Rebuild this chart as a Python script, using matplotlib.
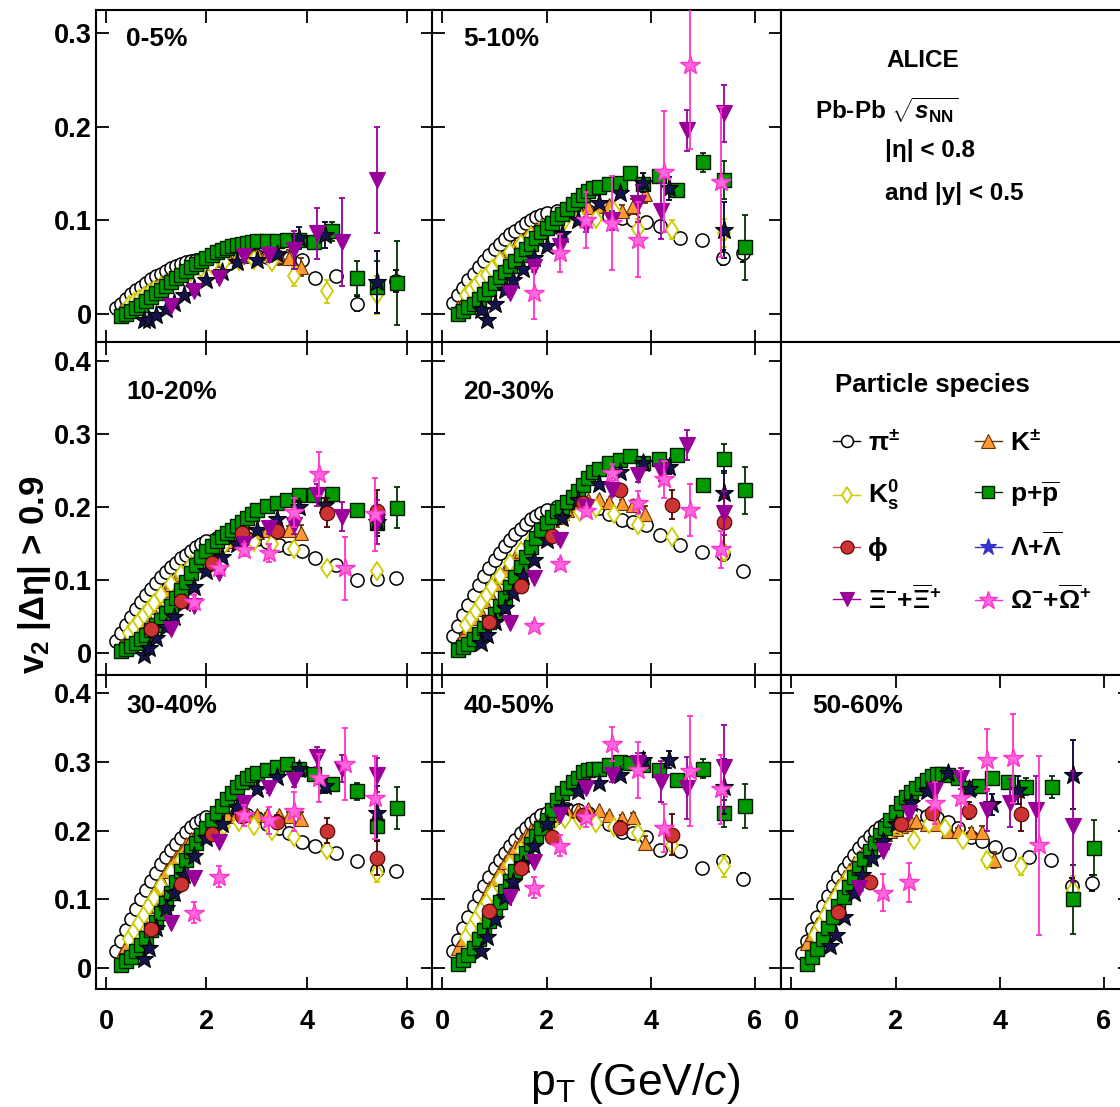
import numpy as np
import matplotlib
matplotlib.use("Agg")
import matplotlib.pyplot as plt
from matplotlib.lines import Line2D
from matplotlib.ticker import FuncFormatter

plt.rcParams['font.family'] = ['Liberation Sans', 'DejaVu Sans']
plt.rcParams['font.weight'] = 'bold'
plt.rcParams['mathtext.fontset'] = 'custom'
plt.rcParams['mathtext.rm'] = 'Liberation Sans:bold'
plt.rcParams['mathtext.bf'] = 'Liberation Sans:bold'
plt.rcParams['mathtext.it'] = 'Liberation Sans:italic:bold'
plt.rcParams['mathtext.sf'] = 'Liberation Sans:italic:regular'
plt.rcParams['mathtext.default'] = 'regular'

nan = np.nan

CENTRALITIES = ["0-5%", "5-10%", "10-20%", "20-30%", "30-40%", "40-50%", "50-60%"]
PANEL_CELLS = [(0, 0), (0, 1), (1, 0), (1, 1), (2, 0), (2, 1), (2, 2)]

# ---- pi+-
PI_PT = [0.2, 0.3, 0.4, 0.5, 0.6, 0.7, 0.8, 0.9, 1.0, 1.1, 1.2, 1.3, 1.4, 1.5, 1.6, 1.7, 1.8, 1.9, 2.0,
         2.2, 2.4, 2.6, 2.8, 3.0, 3.2, 3.45, 3.65, 3.9, 4.17, 4.57, 4.99, 5.39, 5.78]
PI_V2 = [
    [0.006, 0.011, 0.016, 0.021, 0.025, 0.029, 0.033, 0.037, 0.040, 0.043, 0.046, 0.049, 0.051, 0.053, 0.055, 0.057, 0.058, 0.059, 0.060,
     0.061, 0.062, 0.062, 0.062, 0.062, 0.061, 0.060, 0.060, 0.058, 0.038, 0.041, 0.011, 0.030, 0.035],
    [0.012, 0.020, 0.028, 0.036, 0.043, 0.050, 0.057, 0.063, 0.069, 0.075, 0.080, 0.085, 0.089, 0.093, 0.097, 0.100, 0.103, 0.106, 0.108,
     0.110, 0.111, 0.111, 0.110, 0.108, 0.105, 0.102, 0.100, 0.098, 0.094, 0.081, 0.079, 0.060, 0.065],
    [0.016, 0.028, 0.039, 0.050, 0.060, 0.070, 0.079, 0.088, 0.096, 0.104, 0.111, 0.118, 0.124, 0.130, 0.135, 0.140, 0.145, 0.149, 0.153,
     0.157, 0.160, 0.160, 0.158, 0.156, 0.152, 0.148, 0.144, 0.140, 0.130, 0.120, 0.100, 0.102, 0.103],
    [0.023, 0.037, 0.052, 0.066, 0.080, 0.093, 0.105, 0.116, 0.127, 0.137, 0.146, 0.155, 0.163, 0.170, 0.177, 0.183, 0.188, 0.192, 0.196,
     0.200, 0.203, 0.204, 0.203, 0.199, 0.190, 0.182, 0.180, 0.175, 0.162, 0.148, 0.138, 0.136, 0.112],
    [0.025, 0.040, 0.056, 0.071, 0.086, 0.100, 0.114, 0.127, 0.139, 0.151, 0.162, 0.172, 0.181, 0.190, 0.198, 0.205, 0.211, 0.216, 0.220,
     0.225, 0.227, 0.226, 0.223, 0.218, 0.210, 0.204, 0.197, 0.184, 0.178, 0.167, 0.156, 0.143, 0.141],
    [0.025, 0.041, 0.058, 0.074, 0.090, 0.105, 0.119, 0.132, 0.145, 0.157, 0.168, 0.178, 0.187, 0.196, 0.204, 0.211, 0.217, 0.222, 0.226,
     0.230, 0.231, 0.230, 0.226, 0.218, 0.210, 0.198, 0.196, 0.191, 0.172, 0.170, 0.146, 0.156, 0.130],
    [0.023, 0.040, 0.057, 0.074, 0.090, 0.105, 0.119, 0.132, 0.144, 0.155, 0.165, 0.175, 0.184, 0.192, 0.199, 0.205, 0.210, 0.214, 0.217,
     0.221, 0.222, 0.221, 0.218, 0.212, 0.204, 0.191, 0.185, 0.176, 0.166, 0.162, 0.157, 0.119, 0.124],
]
PI_ERR = [
    [0.0] * 28 + [0.002, 0.003, 0.008, 0.010, 0.012],
    [0.0] * 28 + [0.002, 0.003, 0.004, 0.008, 0.010],
    [0.0] * 28 + [0.002, 0.002, 0.003, 0.005, 0.006],
    [0.0] * 28 + [0.002, 0.002, 0.003, 0.005, 0.006],
    [0.0] * 28 + [0.002, 0.002, 0.003, 0.005, 0.006],
    [0.0] * 28 + [0.002, 0.003, 0.004, 0.007, 0.008],
    [0.0] * 28 + [0.003, 0.003, 0.004, 0.012, 0.012],
]

# ---- K+-
K_PT = [0.3, 0.4, 0.5, 0.6, 0.7, 0.8, 0.9, 1.0, 1.1, 1.2, 1.3, 1.4, 1.5, 1.6, 1.7, 1.8, 1.9, 2.0, 2.1, 2.2, 2.3, 2.4,
        2.6, 2.8, 3.0, 3.2, 3.45, 3.65, 3.88]
K_V2 = [
    [0.004, 0.007, 0.011, 0.015, 0.019, 0.023, 0.027, 0.030, 0.033, 0.036, 0.039, 0.042, 0.045, 0.047, 0.050, 0.052, 0.054, 0.056, 0.058, 0.059, 0.061, 0.062,
     0.063, 0.064, 0.065, 0.065, 0.062, 0.060, 0.050],
    [0.007, 0.013, 0.019, 0.026, 0.032, 0.039, 0.045, 0.051, 0.057, 0.063, 0.068, 0.073, 0.078, 0.083, 0.087, 0.091, 0.095, 0.098, 0.101, 0.104, 0.107, 0.109,
     0.112, 0.114, 0.115, 0.116, 0.110, 0.115, 0.128],
    [0.010, 0.018, 0.027, 0.036, 0.045, 0.054, 0.063, 0.071, 0.079, 0.087, 0.094, 0.101, 0.108, 0.114, 0.120, 0.126, 0.131, 0.136, 0.141, 0.145, 0.149, 0.153,
     0.159, 0.163, 0.166, 0.168, 0.168, 0.168, 0.165],
    [0.013, 0.024, 0.036, 0.048, 0.060, 0.072, 0.083, 0.094, 0.104, 0.114, 0.123, 0.132, 0.140, 0.148, 0.156, 0.163, 0.170, 0.176, 0.182, 0.187, 0.192, 0.196,
     0.203, 0.209, 0.211, 0.207, 0.205, 0.203, 0.191],
    [0.020, 0.032, 0.045, 0.060, 0.075, 0.090, 0.104, 0.117, 0.129, 0.141, 0.152, 0.162, 0.171, 0.180, 0.188, 0.195, 0.201, 0.206, 0.210, 0.214, 0.218, 0.221,
     0.225, 0.224, 0.223, 0.222, 0.222, 0.221, 0.217],
    [0.030, 0.042, 0.056, 0.071, 0.087, 0.102, 0.116, 0.130, 0.143, 0.155, 0.166, 0.176, 0.185, 0.194, 0.201, 0.207, 0.212, 0.216, 0.220, 0.223, 0.226, 0.228,
     0.230, 0.232, 0.230, 0.222, 0.218, 0.220, 0.182],
    [0.037, 0.050, 0.064, 0.078, 0.093, 0.107, 0.120, 0.132, 0.143, 0.153, 0.162, 0.170, 0.177, 0.184, 0.190, 0.195, 0.199, 0.203, 0.206, 0.209, 0.212, 0.214,
     0.210, 0.210, 0.200, 0.200, 0.198, 0.198, 0.157],
]
K_ERR = [
    [0.0] * 25 + [0.004, 0.005, 0.008, 0.010],
    [0.0] * 25 + [0.004, 0.006, 0.008, 0.010],
    [0.0] * 25 + [0.003, 0.004, 0.006, 0.010],
    [0.0] * 25 + [0.003, 0.004, 0.006, 0.010],
    [0.0] * 25 + [0.003, 0.004, 0.006, 0.010],
    [0.0] * 25 + [0.003, 0.004, 0.006, 0.010],
    [0.0] * 25 + [0.004, 0.006, 0.008, 0.012],
]

# ---- K0s
K0S_PT = [0.45, 0.55, 0.65, 0.75, 0.85, 0.95, 1.1, 1.3, 1.5, 1.7, 1.9, 2.1, 2.35, 2.65, 2.95, 3.3, 3.75, 4.4, 5.4]
K0S_V2 = [
    [0.010, 0.013, 0.016, 0.019, 0.022, 0.025, 0.030, 0.035, 0.040, 0.045, 0.049, 0.052, 0.055, 0.057, 0.058, 0.055, 0.040, 0.024, 0.020],
    [0.020, 0.025, 0.031, 0.037, 0.042, 0.048, 0.056, 0.066, 0.075, 0.083, 0.090, 0.096, 0.100, 0.102, 0.101, 0.110, 0.091, 0.090, 0.086],
    [0.028, 0.036, 0.044, 0.052, 0.060, 0.068, 0.080, 0.095, 0.108, 0.120, 0.131, 0.140, 0.148, 0.152, 0.152, 0.150, 0.142, 0.117, 0.112],
    [0.038, 0.048, 0.058, 0.069, 0.080, 0.090, 0.105, 0.124, 0.140, 0.154, 0.167, 0.178, 0.188, 0.193, 0.199, 0.190, 0.175, 0.159, 0.138],
    [0.042, 0.054, 0.066, 0.078, 0.090, 0.102, 0.119, 0.140, 0.158, 0.174, 0.188, 0.198, 0.207, 0.212, 0.206, 0.200, 0.191, 0.172, 0.138],
    [0.045, 0.058, 0.071, 0.084, 0.097, 0.110, 0.128, 0.150, 0.170, 0.186, 0.199, 0.209, 0.217, 0.216, 0.211, 0.205, 0.197, 0.179, 0.148],
    [0.048, 0.062, 0.076, 0.090, 0.103, 0.116, 0.134, 0.155, 0.174, 0.188, 0.199, 0.206, 0.186, 0.210, 0.204, 0.186, 0.157, 0.148, 0.114],
]
K0S_ERR = [
    [0.0] * 15 + [0.005, 0.010, 0.012, 0.020],
    [0.0] * 15 + [0.006, 0.010, 0.010, 0.015],
    [0.0] * 15 + [0.004, 0.006, 0.005, 0.008],
    [0.0] * 15 + [0.004, 0.006, 0.006, 0.010],
    [0.0] * 15 + [0.004, 0.005, 0.006, 0.012],
    [0.0] * 15 + [0.004, 0.006, 0.008, 0.015],
    [0.0] * 15 + [0.006, 0.010, 0.012, 0.020],
]

# ---- p + pbar
P_PT = [0.3, 0.4, 0.5, 0.6, 0.7, 0.8, 0.9, 1.0, 1.1, 1.2, 1.3, 1.4, 1.5, 1.6, 1.7, 1.8, 1.9, 2.0, 2.1, 2.2,
        2.3, 2.4, 2.5, 2.6, 2.7, 2.8, 2.9, 3.0, 3.2, 3.4, 3.6, 3.85, 4.15, 4.5, 5.0, 5.4, 5.8]
P_V2 = [
    [-0.002, 0.000, 0.003, 0.006, 0.010, 0.014, 0.018, 0.022, 0.026, 0.030, 0.034, 0.038, 0.042, 0.046, 0.050, 0.053, 0.057, 0.060, 0.063, 0.066,
     0.068, 0.070, 0.072, 0.074, 0.075, 0.076, 0.077, 0.078, 0.078, 0.078, 0.079, 0.079, 0.077, 0.088, 0.038, 0.029, 0.033],
    [0.000, 0.003, 0.007, 0.011, 0.016, 0.021, 0.027, 0.033, 0.039, 0.045, 0.051, 0.057, 0.063, 0.069, 0.075, 0.081, 0.087, 0.092, 0.097, 0.102,
     0.107, 0.112, 0.117, 0.122, 0.127, 0.131, 0.134, 0.136, 0.139, 0.140, 0.150, 0.139, 0.147, 0.132, 0.162, 0.143, 0.071],
    [0.003, 0.006, 0.010, 0.014, 0.019, 0.025, 0.031, 0.038, 0.046, 0.055, 0.065, 0.076, 0.087, 0.098, 0.110, 0.121, 0.131, 0.140, 0.147, 0.153,
     0.159, 0.164, 0.169, 0.174, 0.179, 0.185, 0.190, 0.196, 0.201, 0.205, 0.210, 0.216, 0.216, 0.218, 0.196, 0.178, 0.199],
    [0.004, 0.008, 0.013, 0.019, 0.026, 0.034, 0.043, 0.053, 0.064, 0.076, 0.090, 0.104, 0.118, 0.132, 0.145, 0.158, 0.168, 0.178, 0.186, 0.194,
     0.200, 0.207, 0.214, 0.222, 0.230, 0.240, 0.248, 0.252, 0.260, 0.265, 0.270, 0.260, 0.266, 0.271, 0.230, 0.266, 0.223],
    [0.005, 0.010, 0.017, 0.025, 0.034, 0.044, 0.055, 0.067, 0.080, 0.095, 0.110, 0.126, 0.142, 0.157, 0.170, 0.182, 0.193, 0.204, 0.215, 0.226,
     0.236, 0.246, 0.254, 0.263, 0.270, 0.276, 0.281, 0.284, 0.288, 0.292, 0.297, 0.290, 0.282, 0.268, 0.257, 0.206, 0.233],
    [0.006, 0.012, 0.020, 0.030, 0.042, 0.055, 0.069, 0.083, 0.097, 0.112, 0.127, 0.142, 0.156, 0.168, 0.180, 0.192, 0.204, 0.216, 0.230, 0.244,
     0.254, 0.262, 0.270, 0.277, 0.285, 0.288, 0.289, 0.289, 0.296, 0.300, 0.298, 0.295, 0.288, 0.274, 0.290, 0.225, 0.236],
    [0.007, 0.016, 0.028, 0.042, 0.058, 0.074, 0.090, 0.104, 0.118, 0.132, 0.146, 0.159, 0.171, 0.182, 0.193, 0.204, 0.215, 0.227, 0.240, 0.249,
     0.256, 0.262, 0.268, 0.274, 0.279, 0.282, 0.282, 0.281, 0.276, 0.262, 0.265, 0.276, 0.270, 0.264, 0.264, 0.100, 0.175],
]
P_ERR = [
    [0.0] * 32 + [0.005, 0.010, 0.018, 0.028, 0.045],
    [0.0] * 32 + [0.006, 0.006, 0.010, 0.020, 0.035],
    [0.0] * 32 + [0.005, 0.005, 0.008, 0.018, 0.028],
    [0.0] * 32 + [0.005, 0.006, 0.008, 0.020, 0.032],
    [0.0] * 32 + [0.005, 0.006, 0.012, 0.020, 0.030],
    [0.0] * 32 + [0.005, 0.008, 0.014, 0.020, 0.032],
    [0.0] * 32 + [0.006, 0.012, 0.016, 0.050, 0.040],
]

# ---- phi
PHI_PT = [0.9, 1.5, 2.1, 2.7, 3.4, 4.4, 5.4]
PHI_V2 = [
    [nan] * 7,
    [nan] * 7,
    [0.033, 0.072, 0.124, 0.164, 0.167, 0.192, 0.194],
    [0.043, 0.092, 0.160, 0.205, 0.223, 0.203, 0.179],
    [0.057, 0.123, 0.195, 0.221, 0.213, 0.200, 0.160],
    [0.084, 0.146, 0.191, 0.223, 0.204, 0.194, nan],
    [0.082, 0.125, 0.210, 0.225, 0.229, 0.224, nan],
]
PHI_ERR = [
    [0.0] * 7,
    [0.0] * 7,
    [0.004, 0.005, 0.006, 0.006, 0.008, 0.020, 0.030],
    [0.004, 0.005, 0.006, 0.006, 0.008, 0.020, 0.035],
    [0.004, 0.005, 0.006, 0.006, 0.010, 0.018, 0.025],
    [0.005, 0.006, 0.007, 0.008, 0.010, 0.030, 0.0],
    [0.006, 0.007, 0.008, 0.010, 0.012, 0.025, 0.0],
]

# ---- Lambda + anti-Lambda
LAM_PT = [0.75, 0.85, 1.0, 1.2, 1.35, 1.55, 1.75, 2.0, 2.3, 2.6, 3.0, 3.4, 3.85, 4.35, 5.4]
LAM_V2 = [
    [-0.006, -0.007, -0.001, 0.005, 0.012, 0.020, 0.028, 0.036, 0.045, 0.055, 0.058, 0.064, 0.081, 0.084, 0.034],
    [0.004, -0.007, 0.011, 0.025, 0.036, 0.048, 0.060, 0.072, 0.085, 0.100, 0.118, 0.129, 0.140, 0.134, 0.090],
    [-0.003, 0.007, 0.020, 0.036, 0.050, 0.068, 0.090, 0.112, 0.132, 0.150, 0.168, 0.183, 0.200, 0.203, 0.180],
    [0.014, 0.025, 0.042, 0.062, 0.082, 0.105, 0.128, 0.155, 0.185, 0.210, 0.232, 0.248, 0.260, 0.255, 0.219],
    [0.014, 0.030, 0.058, 0.088, 0.110, 0.136, 0.163, 0.190, 0.209, 0.235, 0.260, 0.278, 0.290, 0.265, 0.225],
    [0.025, 0.045, 0.072, 0.103, 0.125, 0.152, 0.178, 0.210, 0.235, 0.257, 0.269, 0.281, 0.303, 0.303, 0.264],
    [0.033, 0.048, 0.075, 0.110, 0.135, 0.160, 0.185, 0.210, 0.240, 0.257, 0.284, 0.260, 0.238, 0.259, 0.281],
]
LAM_ERR = [
    [0.0] * 12 + [0.012, 0.014, 0.033],
    [0.0] * 12 + [0.010, 0.012, 0.030],
    [0.0] * 12 + [0.008, 0.010, 0.020],
    [0.0] * 12 + [0.008, 0.010, 0.030],
    [0.0] * 12 + [0.008, 0.010, 0.040],
    [0.0] * 12 + [0.010, 0.012, 0.040],
    [0.0] * 12 + [0.015, 0.020, 0.050],
]

# ---- Xi- + anti-Xi+
XI_PT = [1.3, 1.75, 2.25, 2.75, 3.25, 3.75, 4.2, 4.7, 5.4]
XI_V2 = [
    [0.008, 0.024, 0.038, 0.062, 0.063, 0.068, 0.086, 0.077, 0.143],
    [0.022, 0.050, 0.072, 0.095, 0.100, 0.118, 0.110, 0.196, 0.214],
    [0.033, 0.065, 0.110, 0.150, 0.171, 0.175, 0.216, 0.187, 0.180],
    [0.041, 0.103, 0.155, 0.200, 0.223, 0.244, 0.250, 0.285, 0.192],
    [0.066, 0.131, 0.184, 0.240, 0.262, 0.274, 0.307, 0.290, 0.281],
    [0.104, 0.155, 0.223, 0.262, 0.281, 0.298, 0.271, 0.262, 0.293],
    [0.117, 0.170, 0.226, 0.259, 0.276, 0.230, 0.240, 0.230, 0.206],
]
XI_ERR = [
    [0.003, 0.004, 0.004, 0.005, 0.008, 0.020, 0.027, 0.047, 0.057],
    [0.004, 0.005, 0.006, 0.008, 0.010, 0.020, 0.030, 0.022, 0.030],
    [0.003, 0.004, 0.005, 0.006, 0.008, 0.012, 0.015, 0.020, 0.030],
    [0.003, 0.004, 0.005, 0.006, 0.008, 0.010, 0.015, 0.020, 0.030],
    [0.003, 0.004, 0.005, 0.006, 0.008, 0.010, 0.015, 0.020, 0.025],
    [0.004, 0.005, 0.006, 0.007, 0.010, 0.015, 0.030, 0.045, 0.060],
    [0.005, 0.006, 0.007, 0.010, 0.015, 0.030, 0.035, 0.050, 0.080],
]

# ---- Omega- + anti-Omega+
OM_PT = [1.75, 2.25, 2.75, 3.25, 3.75, 4.25, 4.75, 5.35]
OM_V2 = [
    [nan] * 8,
    [0.022, 0.065, 0.100, 0.097, 0.079, 0.152, 0.266, 0.141],
    [0.070, 0.116, 0.141, 0.137, 0.193, 0.245, 0.116, 0.190],
    [0.037, 0.122, 0.194, 0.247, 0.206, 0.238, 0.196, 0.142],
    [0.081, 0.133, 0.222, 0.215, 0.228, 0.276, 0.297, 0.248],
    [0.117, 0.178, 0.220, 0.326, 0.288, 0.204, 0.286, 0.260],
    [0.110, 0.125, 0.240, 0.247, 0.303, 0.305, 0.179, nan],
]
OM_ERR = [
    [0.0] * 8,
    [0.027, 0.020, 0.030, 0.050, 0.040, 0.065, 0.090, 0.080],
    [0.010, 0.008, 0.008, 0.012, 0.020, 0.030, 0.043, 0.050],
    [0.005, 0.007, 0.006, 0.012, 0.016, 0.025, 0.035, 0.025],
    [0.015, 0.015, 0.015, 0.020, 0.028, 0.035, 0.052, 0.060],
    [0.015, 0.015, 0.015, 0.025, 0.040, 0.035, 0.080, 0.050],
    [0.027, 0.028, 0.030, 0.040, 0.045, 0.065, 0.130, 0.0],
]

SPECIES = [
    dict(label='π$^{\\pm}$', pt=PI_PT, v2=PI_V2, err=PI_ERR, marker='o', ms=9.5,
         fc='white', ec='black', ecol='black', lw=1.1),
    dict(label='K$^{\\pm}$', pt=K_PT, v2=K_V2, err=K_ERR, marker='^', ms=10.5,
         fc='#ff9933', ec='#663300', ecol='#663300', lw=0.8),
    dict(label='K$^{0}_{s}$', pt=K0S_PT, v2=K0S_V2, err=K0S_ERR, marker='d', ms=9.5,
         fc='white', ec='#cccc00', ecol='#cccc00', lw=1.3),
    dict(label='p+$\\overline{p}$', pt=P_PT, v2=P_V2, err=P_ERR, marker='s', ms=10,
         fc='#009900', ec='#001a00', ecol='#003300', lw=1.0),
    dict(label='Λ+$\\overline{Λ}$', pt=LAM_PT, v2=LAM_V2, err=LAM_ERR, marker='*', ms=14,
         fc='#14144d', ec='black', ecol='#000033', lw=0.8),
    dict(label='ϕ', pt=PHI_PT, v2=PHI_V2, err=PHI_ERR, marker='o', ms=10.5,
         fc='#cc3333', ec='#4d0000', ecol='#4d0000', lw=0.8),
    dict(label='Ξ$^{-}$+$\\overline{Ξ}^{+}$', pt=XI_PT, v2=XI_V2, err=XI_ERR, marker='v', ms=11,
         fc='#990099', ec='#990099', ecol='#990099', lw=0.8),
    dict(label='Ω$^{-}$+$\\overline{Ω}^{+}$', pt=OM_PT, v2=OM_V2, err=OM_ERR, marker='*', ms=15,
         fc='#ff66dd', ec='#ff33cc', ecol='#ff33cc', lw=1.0),
]

W, H = 1120, 1107
COL_LEFT = [96, 432, 781]
COL_WIDTH = [336.5, 349, 349]
ROW_TOP = [9.5, 342, 675]
ROW_BOTTOM = [342, 675, 989]
ROW_YLIM = [(-0.03, 0.325), (-0.03, 0.426), (-0.03, 0.426)]
ROW_YTICKS = [[0, 0.1, 0.2, 0.3], [0, 0.1, 0.2, 0.3, 0.4], [0, 0.1, 0.2, 0.3, 0.4]]
LABEL_Y = [0.912, 0.85, 0.901]

fig = plt.figure(figsize=(W / 100, H / 100), dpi=100)
axes = {}
for r in range(3):
    for c in range(3):
        ax = fig.add_axes([COL_LEFT[c] / W, 1 - ROW_BOTTOM[r] / H,
                           COL_WIDTH[c] / W, (ROW_BOTTOM[r] - ROW_TOP[r]) / H])
        for sp in ax.spines.values():
            sp.set_linewidth(1.5)
        ax.set_xlim(-0.2, 6.5)
        ax.set_ylim(*ROW_YLIM[r])
        if (r, c) in [(0, 2), (1, 2)]:
            ax.set_xticks([])
            ax.set_yticks([])
        else:
            ax.set_xticks([0, 2, 4, 6])
            ax.set_yticks(ROW_YTICKS[r])
            ax.tick_params(direction='in', length=9, width=1.3, top=True, right=True,
                           labelsize=19.5)
            ax.tick_params(axis='x', pad=14.5)
            ax.tick_params(axis='y', pad=3)
            ax.yaxis.set_major_formatter(FuncFormatter(lambda v, p: '0' if abs(v) < 1e-9 else f'{v:g}'))
            if c != 0:
                ax.tick_params(labelleft=False)
            if r != 2:
                ax.tick_params(labelbottom=False)
        axes[(r, c)] = ax

for i, cent in enumerate(CENTRALITIES):
    r, c = PANEL_CELLS[i]
    ax = axes[(r, c)]
    for k, s in enumerate(SPECIES):
        pt = np.array(s['pt'], dtype=float)
        v2 = np.array(s['v2'][i], dtype=float)
        err = np.array(s['err'][i], dtype=float)
        ok = ~np.isnan(v2)
        if not ok.any():
            continue
        has_err = ok & (err > 0)
        if has_err.any():
            ax.errorbar(pt[has_err], v2[has_err], yerr=err[has_err], fmt='none',
                        ecolor=s['ecol'], elinewidth=1.3, capsize=2.5, capthick=1.3,
                        zorder=2 + k * 0.1)
        ax.plot(pt[ok], v2[ok], linestyle='none', marker=s['marker'], ms=s['ms'],
                mfc=s['fc'], mec=s['ec'], mew=s['lw'], zorder=2.05 + k * 0.1)
    ax.text(0.09, LABEL_Y[r], cent, transform=ax.transAxes, fontsize=19,
            fontweight='bold', va='center', ha='left')

# info panel
ax = axes[(0, 2)]
ax.text(0.407, 0.848, 'ALICE', transform=ax.transAxes, fontsize=17.5, ha='center', va='center')
ax.text(0.097, 0.698, 'Pb-Pb $\\sqrt{\\mathit{s}_{NN}}$', transform=ax.transAxes, fontsize=17.5,
        ha='left', va='center')
ax.text(0.298, 0.577, '|η| < 0.8', transform=ax.transAxes, fontsize=17.5, ha='left', va='center')
ax.text(0.298, 0.448, 'and |y| < 0.5', transform=ax.transAxes, fontsize=17.5, ha='left', va='center')

# legend panel
ax = axes[(1, 2)]
ax.text(0.155, 0.871, 'Particle species', transform=ax.transAxes, fontsize=18.5,
        ha='left', va='center')
order = [0, 2, 5, 6, 1, 3, 4, 7]
handles = []
for k in order:
    s = SPECIES[k]
    fc, ec = s['fc'], s['ec']
    lc = s['ecol']
    if k == 4:
        fc, ec, lc = '#3333cc', '#3333cc', '#3333cc'
    if k == 5:
        lc = '#cc3333'
    handles.append(Line2D([], [], color=lc, lw=1.0, marker=s['marker'], ms=s['ms'] * 0.9,
                          mfc=fc, mec=ec, mew=s['lw'], label=s['label']))
ax.legend(handles=handles, ncol=2, loc='upper left', bbox_to_anchor=(0.15, 0.735),
          frameon=False, fontsize=19, handlelength=1.0, handletextpad=0.3,
          columnspacing=1.3, labelspacing=0.9, borderpad=0, borderaxespad=0)

fig.text(35 / W, 1 - 575 / H, 'v$_2$ |Δη| > 0.9', rotation=90, fontsize=25,
         ha='center', va='center')
fig.text(635 / W, 1 - 1083 / H, 'p$_T$ (GeV/$\\mathsf{c}$)', fontsize=32,
         fontweight='normal', ha='center', va='center')

fig.savefig('out.png', dpi=100)
